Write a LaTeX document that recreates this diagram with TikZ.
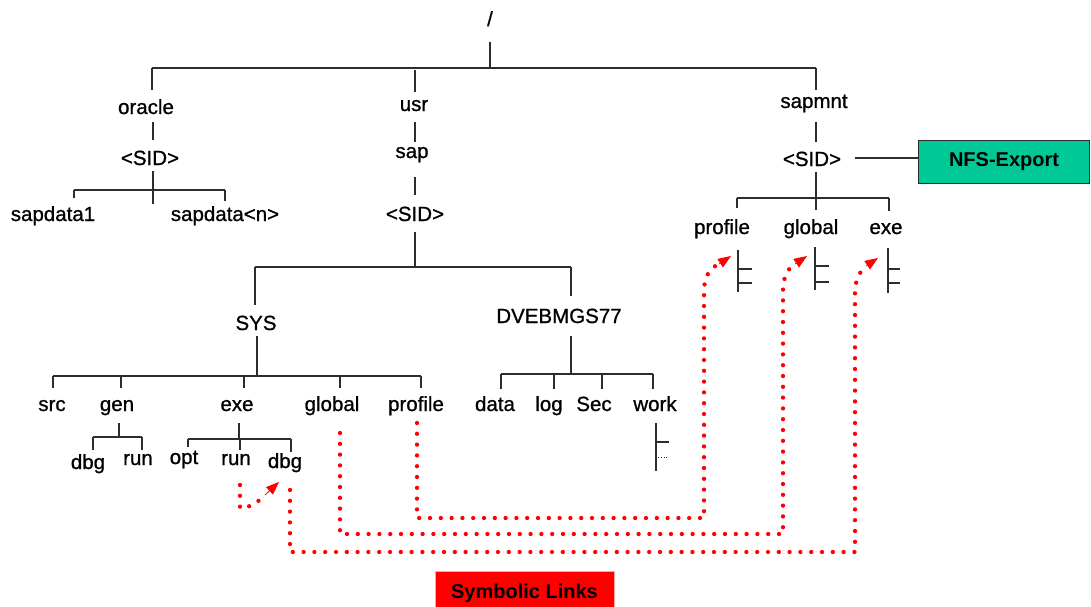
\documentclass[tikz,border=0pt]{standalone}
\usepackage{fontspec}
\setmainfont{Liberation Sans}
\newfontfamily\treefont[FakeBold=0.9]{Liberation Sans}
\usetikzlibrary{arrows.meta}
\definecolor{nfsgreen}{RGB}{0,200,150}
\definecolor{linegray}{RGB}{45,45,45}
\begin{document}
\begin{tikzpicture}[x=1pt,y=-1pt,
  lbl/.style={font=\treefont\fontsize{20.5}{24}\selectfont, inner sep=0pt, text height=15pt, text depth=3pt, anchor=center},
  tree/.style={draw=linegray, line width=1.3pt},
  link/.style={red, line width=4.3pt, line cap=round, dash pattern=on 0pt off 10.8pt},
  lhead/.style={red, line width=0.8pt, -{Triangle[length=13pt,width=10pt]}},
  nfsbox/.style={fill=nfsgreen, draw=linegray, line width=1.2pt, inner sep=0pt, font=\bfseries\fontsize{20}{24}\selectfont},
  symbox/.style={fill=red, draw=red!35, line width=0.8pt, inner sep=0pt, font=\bfseries\fontsize{20}{24}\selectfont}]
\useasboundingbox (0,0) rectangle (1091,607);
\clip (0,0) rectangle (1091,607);

% labels
\node[lbl] (root) at (490,20) {/};
\node[lbl] (oracle) at (146,108) {oracle};
\node[lbl] (osid) at (150,159) {<SID>};
\node[lbl] (sapdata1) at (53,215) {sapdata1};
\node[lbl] (sapdatan) at (225,215) {sapdata<n>};
\node[lbl] (usr) at (414,105) {usr};
\node[lbl] (sap) at (412,152) {sap};
\node[lbl] (usid) at (415,215) {<SID>};
\node[lbl] (sapmnt) at (814,102) {sapmnt};
\node[lbl] (msid) at (812,160) {<SID>};
\node[lbl] (mprofile) at (722,228) {profile};
\node[lbl] (mglobal) at (811,228) {global};
\node[lbl] (mexe) at (886,228) {exe};
\node[lbl] (sys) at (256,324) {SYS};
\node[lbl] (dveb) at (559,317) {DVEBMGS77};
\node[lbl] (src) at (52,405) {src};
\node[lbl] (gen) at (117,405) {gen};
\node[lbl] (exe) at (237,405) {exe};
\node[lbl] (global) at (332,405) {global};
\node[lbl] (profile) at (416,405) {profile};
\node[lbl] (data) at (495,405) {data};
\node[lbl] (log) at (549,405) {log};
\node[lbl] (sec) at (594,405) {Sec};
\node[lbl] (work) at (655,405) {work};
\node[lbl] (gdbg) at (88,463) {dbg};
\node[lbl] (grun) at (138,459) {run};
\node[lbl] (opt) at (184,458) {opt};
\node[lbl] (erun) at (236,459) {run};
\node[lbl] (edbg) at (285,462) {dbg};

\node[nfsbox, minimum width=171pt, minimum height=43pt] (nfs) at (1004,162) {NFS-Export};
\node[symbox, minimum width=179pt, minimum height=44pt] (sym) at (524.5,593) {Symbolic Links};

% tree lines
\draw[tree] (490,42) -- (490,68);
\draw[tree] (152,68) -- (816,68);
\draw[tree] (152,68) -- (152,90);
\draw[tree] (415,70) -- (415,92);
\draw[tree] (816,68) -- (816,90);
% oracle
\draw[tree] (153,122) -- (153,140);
\draw[tree] (153,171) -- (153,190);
\draw[tree] (74,190) -- (225,190);
\draw[tree] (74,190) -- (74,198);
\draw[tree] (153,190) -- (153,204);
\draw[tree] (225,190) -- (225,201);
% usr
\draw[tree] (415,122) -- (415,142);
\draw[tree] (415,177) -- (415,195);
\draw[tree] (415,232) -- (415,267);
\draw[tree] (255,267) -- (571,267);
\draw[tree] (255,267) -- (255,305);
\draw[tree] (571,267) -- (571,296);
% SYS
\draw[tree] (257,336) -- (257,376);
\draw[tree] (53,376) -- (421,376);
\foreach \x in {53,121,244,340,421} \draw[tree] (\x,376) -- (\x,388);
% gen
\draw[tree] (119,423) -- (119,437);
\draw[tree] (93,437) -- (142,437);
\draw[tree] (93,437) -- (93,450);
\draw[tree] (142,437) -- (142,450);
% exe
\draw[tree] (239,423) -- (239,439);
\draw[tree] (188,439) -- (291,439);
\draw[tree] (188,439) -- (188,447);
\draw[tree] (240,439) -- (240,450);
\draw[tree] (291,439) -- (291,452);
% DVEBMGS77
\draw[tree] (571,336) -- (571,374);
\draw[tree] (501,374) -- (653,374);
\foreach \x in {501,554,602,653} \draw[tree] (\x,374) -- (\x,389);
% work subtree symbol
\draw[tree] (656,423) -- (656,471);
\draw[tree] (656,442) -- (669,442);
\draw[linegray, line width=0.8pt, dotted] (658,457) -- (669,457);
% sapmnt
\draw[tree] (816,122) -- (816,142);
\draw[tree] (855,158) -- (nfs.west |- 855,158);
\draw[tree] (816,172) -- (816,198);
\draw[tree] (737,198) -- (889,198);
\draw[tree] (737,198) -- (737,208);
\draw[tree] (816,198) -- (816,210);
\draw[tree] (889,198) -- (889,211);
% subtree symbols under sapmnt
\draw[tree] (738,250) -- (738,292);
\draw[tree] (738,269) -- (752,269);
\draw[tree] (738,283) -- (752,283);
\draw[tree] (815,247) -- (815,290);
\draw[tree] (815,266) -- (829,266);
\draw[tree] (815,282) -- (829,282);
\draw[tree] (888,248) -- (888,293);
\draw[tree] (888,269) -- (900,269);
\draw[tree] (888,283) -- (900,283);

% symbolic links
\draw[link] (417,423) -- (417,518) -- (704,518) -- (704,292) .. controls (704,276) and (710,268) .. (719,264);
\draw[lhead] (719,264) -- (731,256);
\draw[link] (340,433) -- (340,534) -- (783,534) -- (783,290) .. controls (783,277) and (788,268) .. (795,264);
\draw[lhead] (795,264) -- (807,256);
\draw[link] (290,490) -- (290,552) -- (855,552) -- (855,292) .. controls (855,280) and (860,271) .. (866,266);
\draw[lhead] (866,266) -- (878,258);
\draw[link] (240,485) -- (240,508) .. controls (251,508) and (259,501) .. (265,495);
\draw[lhead] (265,495) -- (279,482);
\end{tikzpicture}
\end{document}
